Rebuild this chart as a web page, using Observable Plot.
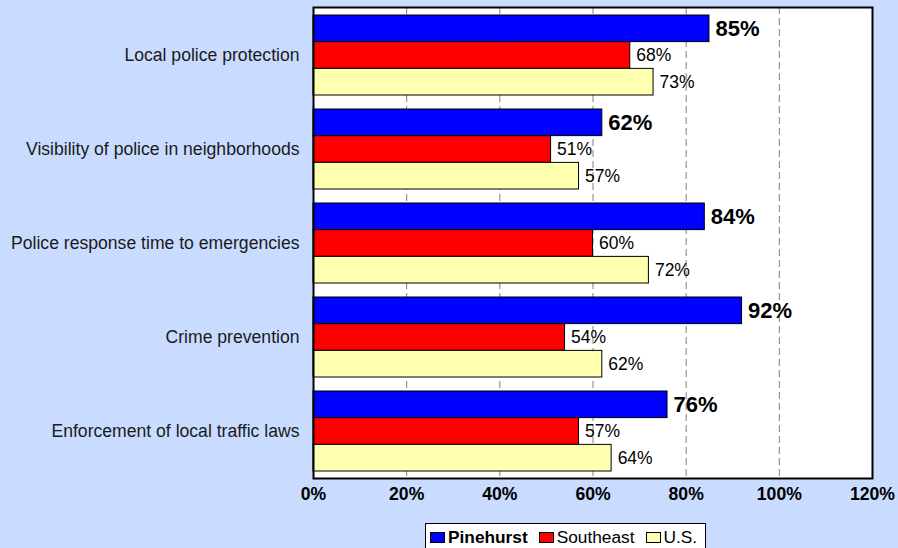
<!DOCTYPE html>
<html>
<head>
<meta charset="utf-8">
<script src="https://cdn.jsdelivr.net/npm/d3@7"></script>
<script src="https://cdn.jsdelivr.net/npm/@observablehq/plot@0.6"></script>
<style>
  html, body { margin: 0; padding: 0; background: #C9DCFF; overflow: hidden; width: 898px; height: 548px; }
  #chart { position: relative; width: 898px; height: 548px; font-family: "Liberation Sans", Arial, sans-serif; }
  #chart svg { display: block; background: transparent; }
  .legend { position: absolute; left: 425px; top: 523px; width: 281px; height: 32px; background: #fff; border: 1.5px solid #000;
            display: flex; align-items: flex-start; padding-top: 3px; padding-left: 4px; box-sizing: border-box; font-size: 17.3px; color: #000; }
  .legend .item { display: flex; align-items: center; margin-right: 11px; height: 21px; }
  .legend .sw { width: 15px; height: 11px; border: 1px solid #000; margin-right: 3px; box-sizing: border-box; }
</style>
</head>
<body>
<div id="chart"></div>
<script>
const categories = [
  "Local police protection",
  "Visibility of police in neighborhoods",
  "Police response time to emergencies",
  "Crime prevention",
  "Enforcement of local traffic laws"
];
const seriesNames = ["Pinehurst", "Southeast", "U.S."];
const pinehurst = [0.85, 0.62, 0.84, 0.92, 0.76];
const southeast = [0.68, 0.51, 0.60, 0.54, 0.57];
const us        = [0.73, 0.57, 0.72, 0.62, 0.64];
const xTicks = [0, 0.2, 0.4, 0.6, 0.8, 1.0, 1.2];
const gridTicks = [0.2, 0.4, 0.6, 0.8, 1.0];
const colors = ["#0000FF", "#FF0000", "#FFFFB0"];

const seriesValues = [pinehurst, southeast, us];
const W = 898, H = 522, mT = 7, mB = 44, mL = 313, mR = 26;
const pIn = 0.15, pOut = 0.075;
const step = (H - mT - mB) / (categories.length - pIn + 2 * pOut);
const third = step * (1 - pIn) / 3;
const fmt = d3.format(".0%");

const marks = [Plot.frame({fill: "white"}),
  Plot.ruleX(gridTicks, {x: d => d, stroke: "#808080", strokeWidth: 1, strokeDasharray: "7,4"})];

seriesValues.forEach((vals, i) => {
  const data = categories.map((c, j) => ({category: c, value: vals[j]}));
  marks.push(Plot.barX(data, {
    x: "value", y: "category", fill: colors[i], stroke: "#000", strokeWidth: 1,
    insetTop: third * i, insetBottom: third * (2 - i)
  }));
});
seriesValues.forEach((vals, i) => {
  const data = categories.map((c, j) => ({category: c, value: vals[j]}));
  marks.push(Plot.text(data, {
    x: "value", y: "category", text: d => fmt(d.value), textAnchor: "start",
    dx: 6, dy: third * (i - 1), fill: "#000",
    fontSize: i === 0 ? 22 : 17.5, fontWeight: i === 0 ? "bold" : "normal"
  }));
});
marks.push(Plot.text(categories, {y: d => d, frameAnchor: "left", textAnchor: "end", dx: -14, fontSize: 17.6, fill: "#1a1a1a"}));
marks.push(Plot.text(xTicks, {x: d => d, frameAnchor: "bottom", dy: 21, text: d => fmt(d), fontSize: 17.6, fontWeight: "bold", fill: "#000"}));
marks.push(Plot.frame({stroke: "#000", strokeWidth: 2}));

const chart = Plot.plot({
  width: W, height: H,
  marginTop: mT, marginBottom: mB, marginLeft: mL, marginRight: mR,
  style: {background: "transparent", fontFamily: "'Liberation Sans', Arial, sans-serif"},
  x: {domain: [0, 1.2], axis: null},
  y: {domain: categories, paddingInner: pIn, paddingOuter: pOut, axis: null},
  marks
});
const root = document.getElementById("chart");
root.appendChild(chart);

const legend = document.createElement("div");
legend.className = "legend";
seriesNames.forEach((name, i) => {
  const item = document.createElement("div");
  item.className = "item";
  const sw = document.createElement("span");
  sw.className = "sw";
  sw.style.background = colors[i];
  const label = document.createElement("span");
  label.textContent = name;
  if (i === 0) label.style.fontWeight = "bold";
  item.appendChild(sw);
  item.appendChild(label);
  legend.appendChild(item);
});
root.appendChild(legend);
</script>
</body>
</html>
